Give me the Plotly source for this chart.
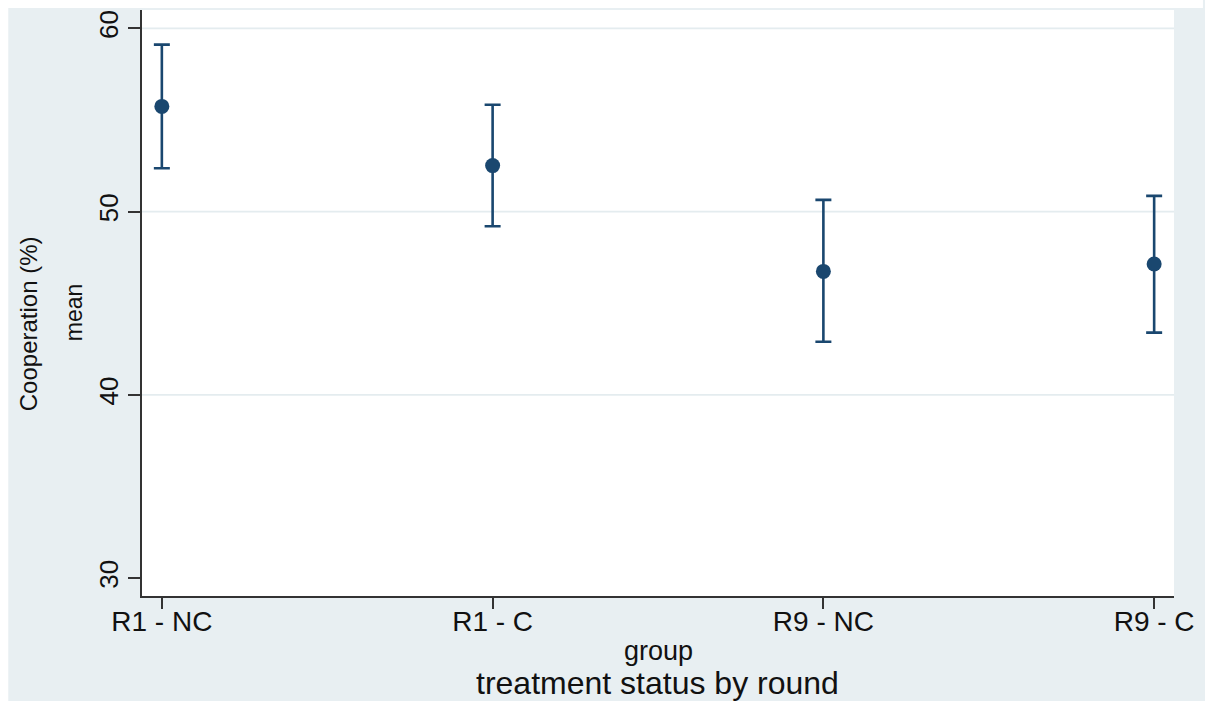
import plotly.graph_objects as go

# Mean cooperation by treatment group with confidence intervals
groups = ["R1 - NC", "R1 - C", "R9 - NC", "R9 - C"]
mean_coop = [55.74, 52.51, 46.74, 47.14]
ci_high = [59.11, 55.83, 50.64, 50.86]
ci_low = [52.37, 49.20, 42.90, 43.40]

y_ticks = [30, 40, 50, 60]
grid_values = [40, 50, 60]

NAVY = "#1a476f"
BG = "#e8eff2"
GRID = "#e4ecef"
AXIS = "#333333"
FONT = "Liberation Sans, Arial, sans-serif"

err_plus = [h - m for h, m in zip(ci_high, mean_coop)]
err_minus = [m - l for m, l in zip(mean_coop, ci_low)]

fig = go.Figure()
fig.add_trace(go.Scatter(
    x=groups,
    y=mean_coop,
    mode="markers",
    marker=dict(color=NAVY, size=15),
    error_y=dict(type="data", symmetric=False, array=err_plus, arrayminus=err_minus,
                 color=NAVY, thickness=2.6, width=8),
    showlegend=False,
    hoverinfo="skip",
))

# horizontal grid lines
for g in grid_values:
    fig.add_shape(type="line", xref="paper", yref="y", x0=0, x1=1, y0=g, y1=g,
                  line=dict(color=GRID, width=1.6), layer="below")

# white frame strips along the top and left edges of the page
L, R, T, B = 142, 29, 10, 105
W, H = 1205, 701
pw, ph = W - L - R, H - T - B
def px_x(p):
    return (p - L) / pw
def px_y(p):
    return (H - B - p) / ph

fig.add_shape(type="rect", xref="paper", yref="paper", x0=px_x(0), x1=px_x(W),
              y0=px_y(8), y1=px_y(-2), fillcolor="white", line_width=0, layer="below")
fig.add_shape(type="rect", xref="paper", yref="paper", x0=px_x(-2), x1=px_x(8),
              y0=px_y(H + 2), y1=px_y(-2), fillcolor="white", line_width=0, layer="below")

fig.update_layout(
    width=W, height=H,
    margin=dict(l=L, r=R, t=T, b=B),
    paper_bgcolor=BG,
    plot_bgcolor="white",
    font=dict(family=FONT, color="#111111"),
    xaxis=dict(
        type="category",
        categoryorder="array", categoryarray=groups,
        range=[-0.06, 3.06],
        showgrid=False, zeroline=False,
        showline=True, linecolor=AXIS, linewidth=1.5,
        ticks="outside", ticklen=11, tickwidth=1.5, tickcolor=AXIS,
        ticklabelstandoff=-11,
        tickfont=dict(size=28, family=FONT, color="#111111"),
    ),
    yaxis=dict(
        range=[29.03, 61.0],
        tickvals=y_ticks,
        showgrid=False, zeroline=False,
        showline=True, linecolor=AXIS, linewidth=1.5,
        ticks="outside", ticklen=12, tickwidth=1.5, tickcolor=AXIS,
        tickangle=-90,
        ticklabelstandoff=0,
        tickfont=dict(size=26, family=FONT, color="#111111"),
    ),
)

fig.add_annotation(text="Cooperation (%)", xref="paper", yref="paper",
                   x=px_x(28), y=px_y(324), textangle=-90, showarrow=False,
                   xanchor="center", yanchor="middle", font=dict(size=24, family=FONT))
fig.add_annotation(text="mean", xref="paper", yref="paper",
                   x=px_x(74), y=px_y(312), textangle=-90, showarrow=False,
                   xanchor="center", yanchor="middle", font=dict(size=23, family=FONT))
fig.add_annotation(text="group", xref="paper", yref="paper",
                   x=px_x(659), y=px_y(651), showarrow=False,
                   xanchor="center", yanchor="middle", font=dict(size=27, family=FONT))
fig.add_annotation(text="treatment status by round", xref="paper", yref="paper",
                   x=px_x(658), y=px_y(683), showarrow=False,
                   xanchor="center", yanchor="middle", font=dict(size=32, family=FONT))

fig.write_html("out.html")
